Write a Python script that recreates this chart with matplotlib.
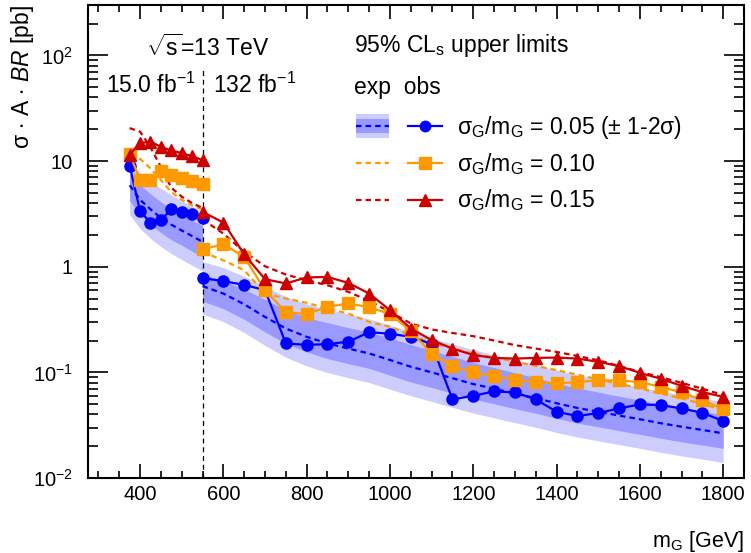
import numpy as np
import matplotlib
matplotlib.use("Agg")
import matplotlib.pyplot as plt
from matplotlib.patches import Patch, Rectangle
from matplotlib.lines import Line2D
from matplotlib.legend_handler import HandlerTuple, HandlerPatch
from matplotlib.ticker import MultipleLocator, LogLocator, FuncFormatter, NullFormatter

plt.rcParams['font.family'] = ['Liberation Sans', 'DejaVu Sans']
plt.rcParams['mathtext.fontset'] = 'custom'
plt.rcParams['mathtext.rm'] = 'Liberation Sans'
plt.rcParams['mathtext.it'] = 'Liberation Sans:italic'
plt.rcParams['mathtext.bf'] = 'Liberation Sans:bold'
plt.rcParams['mathtext.sf'] = 'Liberation Sans'

# mass points: 15.0 fb-1 low-mass part and 132 fb-1 high-mass part
mass_lo = [375, 400, 425, 450, 475, 500, 525, 550]
mass_hi = [550, 600, 650, 700, 750, 800, 850, 900, 950, 1000, 1050, 1100, 1150,
           1200, 1250, 1300, 1350, 1400, 1450, 1500, 1550, 1600, 1650, 1700, 1750, 1800]

# sigma_G/m_G = 0.05 : observed, expected and bands
obs05_lo = [9.06, 3.37, 2.6, 2.75, 3.52, 3.33, 3.14, 2.92]
exp05_lo = [5.9, 4.3, 3.5, 2.9, 2.5, 2.2, 1.95, 1.72]
p1s_lo = [7.6, 5.9, 4.9, 4.1, 3.5, 3.1, 2.75, 2.45]
p2s_lo = [9.3, 7.8, 6.5, 5.5, 4.8, 4.2, 3.7, 3.3]
m1s_lo = [4.2, 3.1, 2.5, 2.1, 1.8, 1.6, 1.4, 1.24]
m2s_lo = [3.1, 2.3, 1.85, 1.55, 1.33, 1.17, 1.03, 0.91]

obs05_hi = [0.78, 0.73, 0.673, 0.60, 0.188, 0.182, 0.185, 0.195, 0.24, 0.232, 0.217, 0.185,
            0.0555, 0.06, 0.066, 0.0646, 0.0555, 0.0424, 0.0386, 0.0412, 0.0456, 0.0497,
            0.049, 0.0456, 0.0414, 0.0346]
exp05_hi = [0.655, 0.557, 0.441, 0.335, 0.26, 0.217, 0.188, 0.168, 0.151, 0.131, 0.113, 0.100,
            0.088, 0.0775, 0.070, 0.063, 0.057, 0.051, 0.046, 0.0424, 0.039, 0.036, 0.033,
            0.0306, 0.0285, 0.0265]
p1s_hi = [0.85, 0.74, 0.61, 0.49, 0.39, 0.33, 0.295, 0.265, 0.24, 0.212, 0.183, 0.161, 0.141,
          0.124, 0.111, 0.099, 0.089, 0.079, 0.071, 0.065, 0.0595, 0.0545, 0.05, 0.0462,
          0.0428, 0.0396]
p2s_hi = [1.12, 0.98, 0.81, 0.65, 0.52, 0.445, 0.395, 0.355, 0.32, 0.28, 0.241, 0.212, 0.186,
          0.164, 0.146, 0.131, 0.118, 0.105, 0.094, 0.086, 0.0785, 0.0722, 0.0662, 0.0612,
          0.0568, 0.0527]
m1s_hi = [0.472, 0.401, 0.318, 0.241, 0.187, 0.156, 0.135, 0.121, 0.109, 0.094, 0.081, 0.072,
          0.0634, 0.0558, 0.0504, 0.0454, 0.041, 0.0367, 0.0331, 0.0305, 0.0281, 0.0259,
          0.0238, 0.022, 0.0205, 0.0191]
m2s_hi = [0.357, 0.302, 0.238, 0.18, 0.139, 0.115, 0.0996, 0.089, 0.08, 0.0694, 0.06, 0.053,
          0.0466, 0.0411, 0.0371, 0.0334, 0.0302, 0.027, 0.0244, 0.0225, 0.0207, 0.0191,
          0.0175, 0.0162, 0.0151, 0.014]

# sigma_G/m_G = 0.10
obs10_lo = [11.7, 6.58, 6.6, 8.0, 7.45, 6.97, 6.53, 6.03]
exp10_lo = [10.9, 10.5, 8.5, 6.6, 5.1, 4.3, 3.8, 3.47]
obs10_hi = [1.46, 1.63, 1.24, 0.60, 0.371, 0.356, 0.417, 0.449, 0.414, 0.356, 0.247, 0.15,
            0.1145, 0.1, 0.0923, 0.0851, 0.0804, 0.0786, 0.0809, 0.0839, 0.0839, 0.0809,
            0.073, 0.0645, 0.0547, 0.0449]
exp10_hi = [1.38, 1.15, 0.927, 0.557, 0.5, 0.455, 0.402, 0.36, 0.30, 0.27, 0.225, 0.19,
            0.169, 0.151, 0.138, 0.126, 0.115, 0.105, 0.095, 0.0857, 0.078, 0.0705, 0.063,
            0.0567, 0.050, 0.044]

# sigma_G/m_G = 0.15
obs15_lo = [11.5, 14.8, 15.3, 13.6, 12.6, 11.9, 11.1, 10.2]
exp15_lo = [20.5, 19.0, 13.5, 8.8, 5.6, 4.6, 4.0, 3.6]
obs15_hi = [3.3, 2.62, 1.31, 0.762, 0.694, 0.791, 0.80, 0.703, 0.557, 0.388, 0.26, 0.202,
            0.168, 0.146, 0.137, 0.135, 0.137, 0.138, 0.135, 0.126, 0.1146, 0.099, 0.087,
            0.0746, 0.065, 0.0587]
exp15_hi = [2.8, 2.06, 1.38, 1.01, 0.843, 0.745, 0.668, 0.578, 0.475, 0.374, 0.29, 0.255,
            0.236, 0.22, 0.2, 0.181, 0.168, 0.156, 0.143, 0.13, 0.115, 0.101, 0.09, 0.0796,
            0.07, 0.061]

lumi_split = 550
vline_top = 75

c_blue = '#0000ff'
c_orange = '#ff9900'
c_red = '#cc0000'
c_1s = '#9999ff'
c_2s = '#ccccff'
dash = (0, (2.5, 1.8))
fs = 14.5   # tick labels
ft = 16.5   # texts and legend

fig = plt.figure(figsize=(7.51, 5.53), dpi=100)
ax = fig.add_axes([88/751, 75/553, 656/751, 473/553])
ax.set_yscale('log')

for m, lo2, hi2, lo1, hi1 in [(mass_lo, m2s_lo, p2s_lo, m1s_lo, p1s_lo),
                              (mass_hi, m2s_hi, p2s_hi, m1s_hi, p1s_hi)]:
    ax.fill_between(m, lo2, hi2, color=c_2s, lw=0)
    ax.fill_between(m, lo1, hi1, color=c_1s, lw=0)

for m, e05, e10, e15 in [(mass_lo, exp05_lo, exp10_lo, exp15_lo),
                         (mass_hi, exp05_hi, exp10_hi, exp15_hi)]:
    ax.plot(m, e10, color=c_orange, ls=dash, lw=1.6)
    ax.plot(m, e15, color=c_red, ls=dash, lw=1.6)
    ax.plot(m, e05, color=c_blue, ls=dash, lw=1.6)

ax.vlines(lumi_split, 0.01, vline_top, colors='black', linestyles=(0, (4, 3)), lw=0.9)

for m, o05, o10, o15 in [(mass_lo, obs05_lo, obs10_lo, obs15_lo),
                         (mass_hi, obs05_hi, obs10_hi, obs15_hi)]:
    ax.plot(m, o05, color=c_blue, lw=1.6, marker='o', ms=8)
    ax.plot(m, o10, color=c_orange, lw=1.6, marker='s', ms=8.5)
    ax.plot(m, o15, color=c_red, lw=1.6, marker='^', ms=9)

ax.set_xlim(275, 1850)
ax.set_ylim(0.01, 300)

ax.xaxis.set_major_locator(MultipleLocator(200))
ax.xaxis.set_minor_locator(MultipleLocator(50))
ax.yaxis.set_major_locator(LogLocator(base=10, numticks=10))
ax.yaxis.set_minor_locator(LogLocator(base=10, subs=np.arange(2, 10), numticks=20))
ax.yaxis.set_minor_formatter(NullFormatter())


def yfmt(v, pos):
    e = int(round(np.log10(v)))
    if e in (0, 1):
        return str(int(round(v)))
    return r'$10^{%d}$' % e


ax.yaxis.set_major_formatter(FuncFormatter(yfmt))
ax.tick_params(which='both', direction='in', top=True, right=True, labelsize=fs, width=1.2)
ax.tick_params(axis='y', which='major', length=14.4, pad=11)
ax.tick_params(axis='y', which='minor', length=7.2)
ax.tick_params(axis='x', which='major', length=10, pad=5)
ax.tick_params(axis='x', which='minor', length=5)
for s in ax.spines.values():
    s.set_linewidth(1.5)

ax.set_xlabel(r'm$_{\mathrm{G}}$ [GeV]', fontsize=15.5, loc='right')
ax.xaxis.set_label_coords(1.0, -0.108)
ax.xaxis.label.set_va('top')
ax.set_ylabel(r'σ $\cdot$ A $\cdot$ $\mathit{BR}$ [pb]', fontsize=16.5, loc='top')
ax.yaxis.set_label_coords(-0.079, 1.0)

ax.text(0.088, 0.909, r'$\sqrt{\mathrm{s}}$=13 TeV', transform=ax.transAxes, fontsize=ft,
        ha='left', va='center')
ax.text(0.028, 0.831, r'15.0 fb$^{\mathrm{-1}}$', transform=ax.transAxes, fontsize=ft,
        ha='left', va='center')
ax.text(0.19, 0.831, r'132 fb$^{\mathrm{-1}}$', transform=ax.transAxes, fontsize=ft,
        ha='left', va='center')
ax.text(0.405, 0.915, r'95% CL$_{\mathrm{s}}$ upper limits', transform=ax.transAxes,
        fontsize=ft, ha='left', va='center')
ax.text(0.405, 0.826, 'exp  obs', transform=ax.transAxes, fontsize=ft, ha='left', va='center')

# legend: exp handle (band + dashed) next to obs handle
light = Patch(facecolor=c_2s, edgecolor='none')
dark = Patch(facecolor=c_1s, edgecolor='none')
exp05_h = Line2D([], [], color=c_blue, ls=dash, lw=1.6)
band_h = (light, dark, exp05_h)
obs05_h = Line2D([], [], color=c_blue, lw=1.6, marker='o', ms=7.5)
exp10_h = Line2D([], [], color=c_orange, ls=dash, lw=1.6)
obs10_h = Line2D([], [], color=c_orange, lw=1.6, marker='s', ms=8)
exp15_h = Line2D([], [], color=c_red, ls=dash, lw=1.6)
obs15_h = Line2D([], [], color=c_red, lw=1.6, marker='^', ms=8.5)


def tall_rect(legend, orig_handle, xdescent, ydescent, width, height, fontsize):
    return Rectangle((-xdescent, -ydescent - 0.25 * height), width, 1.5 * height)


def mid_rect(legend, orig_handle, xdescent, ydescent, width, height, fontsize):
    return Rectangle((-xdescent, -ydescent + 0.06 * height), width, 0.88 * height)


handles = [(band_h, obs05_h), (exp10_h, obs10_h), (exp15_h, obs15_h)]
labels = [r'σ$_{\mathrm{G}}$/m$_{\mathrm{G}}$ = 0.05 (± 1-2σ)',
          r'σ$_{\mathrm{G}}$/m$_{\mathrm{G}}$ = 0.10',
          r'σ$_{\mathrm{G}}$/m$_{\mathrm{G}}$ = 0.15']
hmap = {band_h: HandlerTuple(ndivide=1, pad=0),
        tuple: HandlerTuple(ndivide=2, pad=0.83),
        light: HandlerPatch(patch_func=tall_rect),
        dark: HandlerPatch(patch_func=mid_rect)}
ax.legend(handles, labels, handler_map=hmap, loc='upper left',
          bbox_to_anchor=((356 - 88) / 656, (478 - 114) / 473), frameon=False,
          fontsize=ft, handlelength=3.75, handletextpad=0.65, labelspacing=0.45,
          borderpad=0, borderaxespad=0)

fig.savefig('out.png', dpi=100)
